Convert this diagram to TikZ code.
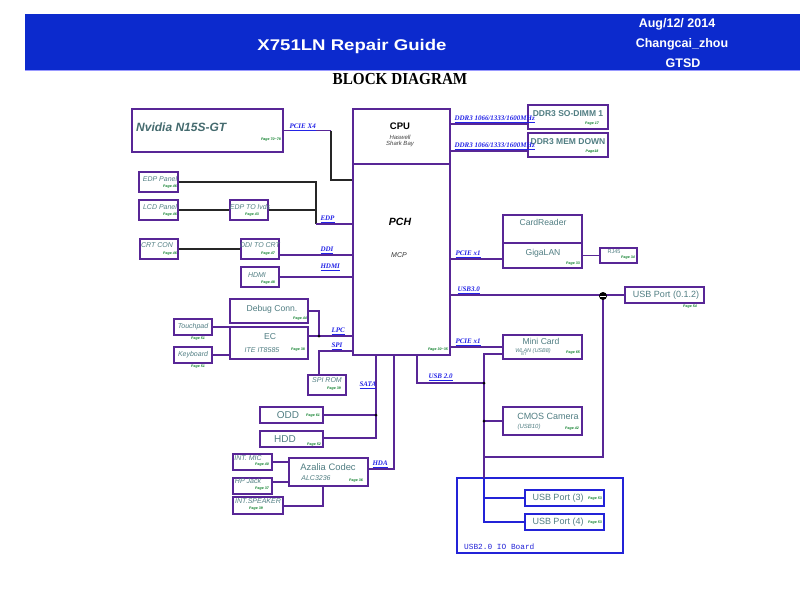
\documentclass[tikz,border=0pt]{standalone}
\usepackage{fontspec}
\setmainfont{Liberation Serif}
\setsansfont{Liberation Sans}
\setmonofont{Liberation Mono}
\usetikzlibrary{fit,calc}
\definecolor{boxc}{RGB}{88,38,150}
\definecolor{txc}{RGB}{80,125,130}
\definecolor{pgc}{RGB}{10,125,40}
\definecolor{lblc}{RGB}{35,35,230}
\definecolor{bandc}{RGB}{12,42,205}
\definecolor{ioc}{RGB}{35,35,215}
\newcommand\fs[1]{\fontsize{#1}{#1}\selectfont}
\begin{document}
\begin{tikzpicture}[x=1pt,y=-1pt,
  box/.style={draw=boxc,line width=1.4pt,inner sep=0pt},
  iobox/.style={draw=ioc,line width=1.4pt,inner sep=0pt},
  wire/.style={draw=boxc,line width=1.1pt},
  bwire/.style={draw=black!85,line width=1.1pt},
  iowire/.style={draw=ioc,line width=1.1pt},
  lbl/.style={font=\rmfamily\bfseries\itshape\fs{7},text=lblc,inner sep=0.3pt,anchor=south west},
  pg/.style={font=\sffamily\bfseries\itshape\fs{3.6},text=pgc,inner sep=0pt},
  tx/.style={font=\sffamily\fs{8.6},text=txc,inner sep=0pt},
  txb/.style={font=\sffamily\bfseries\fs{8.5},text=txc,inner sep=0pt},
  ti/.style={font=\sffamily\itshape\fs{7},text=txc,inner sep=0pt},
  dot/.style={fill=black,circle,inner sep=0pt,minimum size=3pt}]
\useasboundingbox (0,0) rectangle (800,600);
% header
\fill[bandc] (25,14) rectangle (800,70);
\draw[blue!40,line width=0.8pt] (25,70) -- (800,70);
\node[font=\sffamily\bfseries\fs{15.5},text=white] (title) at (352,46) {\scalebox{1.2}[1]{X751LN Repair Guide}};
\node[font=\sffamily\bfseries\fs{12.5},text=white] (date) at (677,24) {Aug/12/ 2014};
\node[font=\sffamily\bfseries\fs{12.5},text=white] (auth) at (682,44) {Changcai\_zhou};
\node[font=\sffamily\bfseries\fs{12.5},text=white] (dept) at (683,63) {GTSD};
\node[font=\rmfamily\bfseries\fs{16}] (bd) at (400,79) {\scalebox{0.95}[1.05]{BLOCK DIAGRAM}};

% boxes
\node[box,fit={(132,109) (283,152)}] (nv) {};
\node[box,fit={(353,109) (450,164)}] (cpu) {};
\node[box,fit={(353,164) (450,355)}] (pch) {};
\node[box,fit={(528,105) (608,129)}] (dimm) {};
\node[box,fit={(528,133) (608,157)}] (memd) {};
\node[box,fit={(139,172) (178,192)}] (edpp) {};
\node[box,fit={(139,200) (178,220)}] (lcdp) {};
\node[box,fit={(230,200) (268,220)}] (edplv) {};
\node[box,fit={(140,239) (178,259)}] (crt) {};
\node[box,fit={(241,239) (279,259)}] (ddi) {};
\node[box,fit={(241,267) (279,287)}] (hdmi) {};
\node[box,fit={(230,299) (308,323)}] (dbg) {};
\node[box,fit={(230,327) (308,359)}] (ec) {};
\node[box,fit={(174,319) (212,335)}] (tp) {};
\node[box,fit={(174,347) (212,363)}] (kb) {};
\node[box,fit={(308,375) (346,395)}] (spi) {};
\node[box,fit={(260,407) (323,423)}] (odd) {};
\node[box,fit={(260,431) (323,447)}] (hdd) {};
\node[box,fit={(289,458) (368,486)}] (aza) {};
\node[box,fit={(233,454) (272,470)}] (mic) {};
\node[box,fit={(233,478) (272,494)}] (hp) {};
\node[box,fit={(233,497) (283,514)}] (spk) {};
\node[box,fit={(503,215) (582,243)}] (cr) {};
\node[box,fit={(503,243) (582,268)}] (gl) {};
\node[box,fit={(600,248) (637,263)}] (rj) {};
\node[box,fit={(625,287) (704,303)}] (usbz) {};
\node[box,fit={(503,335) (582,359)}] (mini) {};
\node[box,fit={(503,407) (582,435)}] (cam) {};
\node[draw=ioc,line width=1.2pt,inner sep=0pt,fit={(457,478) (623,553)}] (io) {};
\node[iobox,fit={(525,490) (604,506)}] (u3) {};
\node[iobox,fit={(525,514) (604,530)}] (u4) {};

% texts in boxes
\node[font=\sffamily\bfseries\itshape\fs{12},text=txc!85!black,anchor=west,inner sep=0pt] (nvt) at (136,127) {Nvidia N15S-GT};
\node[pg,anchor=east] (nvp) at (281,140) {Page 70\textasciitilde78};
\node[font=\sffamily\bfseries\fs{9.5},inner sep=0pt] (cput) at (400,126) {CPU};
\node[font=\sffamily\itshape\fs{6},text=black!75,inner sep=0pt] (cpu2) at (400,137) {Haswell};
\node[font=\sffamily\itshape\fs{6},text=black!75,inner sep=0pt] (cpu3) at (400,144) {Shark Bay};
\node[font=\sffamily\bfseries\itshape\fs{10.5},inner sep=0pt] (pcht) at (400,222) {PCH};
\node[font=\sffamily\itshape\fs{7},text=black!80,inner sep=0pt] (mcp) at (399,255) {MCP};
\node[pg,anchor=east] (pchp) at (448,350) {Page 30\textasciitilde35};
\node[txb] (dimmt) at (568,114) {DDR3 SO-DIMM 1};
\node[pg] (dimmp) at (592,124) {Page 17};
\node[txb] (memdt) at (568,142) {DDR3 MEM DOWN};
\node[pg] (memdp) at (592,152) {Page18};
\node[ti] (edppt) at (160,179) {EDP Panel};
\node[pg] (edppp) at (170,187) {Page 46};
\node[ti] (lcdpt) at (160,207) {LCD Panel};
\node[pg] (lcdpp) at (170,215) {Page 46};
\node[ti] (edplvt) at (250,207) {EDP TO lvds};
\node[pg] (edplvp) at (252,215) {Page 43};
\node[ti] (crtt) at (157,245) {CRT CON};
\node[pg] (crtp) at (170,254) {Page 46};
\node[ti] (ddit) at (260,245) {DDI TO CRT};
\node[pg] (ddip) at (268,254) {Page 47};
\node[ti] (hdmit) at (257,275) {HDMI};
\node[pg] (hdmip) at (268,283) {Page 48};
\node[tx] (dbgt) at (272,309) {Debug Conn.};
\node[pg,anchor=east] (dbgp) at (307,319) {Page 44};
\node[tx] (ect) at (270,337) {EC};
\node[ti] (ec2) at (262,350) {ITE IT8585};
\node[pg] (ecp) at (298,350) {Page 38};
\node[ti] (tpt) at (193,327) {Touchpad};
\node[pg] (tpp) at (198,339) {Page 51};
\node[ti] (kbt) at (193,355) {Keyboard};
\node[pg] (kbp) at (198,367) {Page 51};
\node[ti] (spit) at (327,380) {SPI ROM};
\node[pg] (spip) at (334,389) {Page 39};
\node[tx,font=\sffamily\fs{10}] (oddt) at (288,415) {ODD};
\node[pg] (oddp) at (313,416) {Page 61};
\node[tx,font=\sffamily\fs{10}] (hddt) at (285,439) {HDD};
\node[pg] (hddp) at (314,445) {Page 52};
\node[tx,font=\sffamily\fs{9.4}] (azat) at (328,467) {Azalia Codec};
\node[ti] (aza2) at (316,478) {ALC3236};
\node[pg] (azap) at (356,481) {Page 36};
\node[ti] (mict) at (248,458) {INT. MIC};
\node[pg] (micp) at (262,465) {Page 40};
\node[ti] (hpt) at (248,481) {HP Jack};
\node[pg] (hpp) at (262,489) {Page 37};
\node[ti] (spkt) at (258,501) {INT.SPEAKER};
\node[pg] (spkp) at (256,509) {Page 39};
\node[tx] (crt2) at (543,222) {CardReader};
\node[tx] (glt) at (543,253) {GigaLAN};
\node[pg] (glp) at (573,264) {Page 33};
\node[ti,font=\sffamily\fs{5.5}] (rjt) at (614,252) {RJ45};
\node[pg] (rjp) at (628,258) {Page 34};
\node[tx,font=\sffamily\fs{9}] (usbzt) at (666,295) {USB Port (0.1.2)};
\node[pg] (usbzp) at (690,307) {Page 54};
\node[tx] (minit) at (541,341) {Mini Card};
\node[ti,font=\sffamily\itshape\fs{5.5}] (mini2) at (533,351) {WLAN (USB8)};
\node[ti,font=\sffamily\fs{4}] (mini3) at (524,354) {BT};
\node[pg] (minip) at (573,353) {Page 65};
\node[tx,font=\sffamily\fs{9}] (camt) at (548,416) {CMOS Camera};
\node[ti,font=\sffamily\itshape\fs{6}] (cam2) at (529,427) {(USB10)};
\node[pg] (camp) at (572,429) {Page 42};
\node[tx,font=\sffamily\fs{9}] (u3t) at (558,498) {USB Port (3)};
\node[pg] (u3p) at (595,499) {Page 53};
\node[tx,font=\sffamily\fs{9}] (u4t) at (558,522) {USB Port (4)};
\node[pg] (u4p) at (595,523) {Page 53};
\node[font=\ttfamily\fs{7.8},text=ioc,anchor=west,inner sep=0pt] (iot) at (464,547) {USB2.0 IO Board};

% junction coordinates
\coordinate (b1) at (331,180);
\coordinate (b2) at (316,224);
\coordinate (d1) at (279,255);
\coordinate (b3) at (319,336);
\coordinate (b4) at (319,351);
\coordinate (b5) at (376,438);
\coordinate (b6) at (394,469);
\coordinate (hpj) at (272,482);
\coordinate (b7) at (323,506);
\coordinate (b8) at (417,383);
\coordinate (bus) at (484,383);
\coordinate (mt) at (484,354);
\coordinate (lb) at (484,457);
\coordinate (iot0) at (484,478);
\coordinate (jb) at (603,296);
\coordinate (p1) at (450,259);
\coordinate (p2) at (450,347);
\coordinate (m1) at (450,124);
\coordinate (m2) at (450,151);

% connectors
\draw[wire] (nv.east) -- (nv.east -| b1);
\draw[bwire] (nv.east -| b1) -- (b1) -- (b1 -| pch.west);
\draw[bwire] (edpp.east) -| (b2);
\draw[bwire] (lcdp.east) -- (edplv.west);
\draw[bwire] (edplv.east) -- (edplv.east -| b2);
\draw[wire] (b2) -- (b2 -| pch.west);
\draw[bwire] (crt.east) -- (ddi.west);
\draw[wire] (d1) -- (d1 -| pch.west);
\draw[wire] (hdmi.east) -- (hdmi.east -| pch.west);
\draw[wire] (dbg.east) -| (b3);
\draw[wire] (ec.east |- b3) -- (b3 -| pch.west);
\draw[wire] (tp.east) -- (tp.east -| ec.west);
\draw[wire] (kb.east) -- (kb.east -| ec.west);
\draw[wire] (b4 -| pch.west) -- (b4) -- (b4 |- spi.north);
\draw[wire] (b5 |- pch.south) -- (b5) -- (b5 -| hdd.east);
\draw[wire] (odd.east) -- (odd.east -| b5);
\draw[wire] (b6 |- pch.south) -- (b6) -- (b6 -| aza.east);
\draw[wire] (mic.east) -- (mic.east -| aza.west);
\draw[wire] (hpj) -- (hpj -| aza.west);
\draw[wire] (aza.south -| b7) -- (b7) -- (b7 -| spk.east);
\draw[wire] (b8 |- pch.south) -- (b8) -- (bus);
\draw[wire] (mt -| mini.west) -- (mt) -- (iot0);
\draw[wire] (cam.west) -- (cam.west -| mt);
\draw[wire] (p2) -- (p2 -| mini.west);
\draw[wire] (p1) -- (p1 -| gl.west);
\draw[wire] (gl.east |- rj.west) -- (rj.west);
\draw[wire] (pch.east |- usbz.west) -- (usbz.west);
\draw[wire] (jb) |- (lb);
\draw[iowire] (iot0) -- (mt |- u4.west) -- (u4.west);
\draw[iowire] (mt |- u3.west) -- (u3.west);
\draw[wire] (m1) -- (m1 -| dimm.west);
\draw[wire] (m2) -- (m2 -| memd.west);

% dots
\node[dot] (j1) at (b3) {};
\node[dot] (j2) at (odd.east -| b5) {};
\node[dot] (j3) at (bus) {};
\node[dot] (j4) at (cam.west -| mt) {};
\node[fill=black,circle,inner sep=0pt,minimum size=8pt] (j5) at (jb) {};
\draw[white,line width=0.5pt] ([xshift=-3pt]j5.center) -- ([xshift=3pt]j5.center);

% labels
\node[lbl] (l1) at (289,131) {\underline{PCIE X4}};
\node[lbl] (l2) at (454,123) {\underline{DDR3 1066/1333/1600MHz}};
\node[lbl] (l3) at (454,150) {\underline{DDR3 1066/1333/1600MHz}};
\node[lbl] (l4) at (320,223) {\underline{EDP}};
\node[lbl] (l5) at (320,254) {\underline{DDI}};
\node[lbl] (l6) at (320,271) {\underline{HDMI}};
\node[lbl] (l7) at (331,335) {\underline{LPC}};
\node[lbl] (l8) at (331,350) {\underline{SPI}};
\node[lbl] (l9) at (359,389) {\underline{SATA}};
\node[lbl] (l10) at (372,468) {\underline{HDA}};
\node[lbl] (l11) at (428,381) {\underline{USB 2.0}};
\node[lbl] (l12) at (455,346) {\underline{PCIE x1}};
\node[lbl] (l13) at (455,258) {\underline{PCIE x1}};
\node[lbl] (l14) at (457,294) {\underline{USB3.0}};
\end{tikzpicture}
\end{document}
